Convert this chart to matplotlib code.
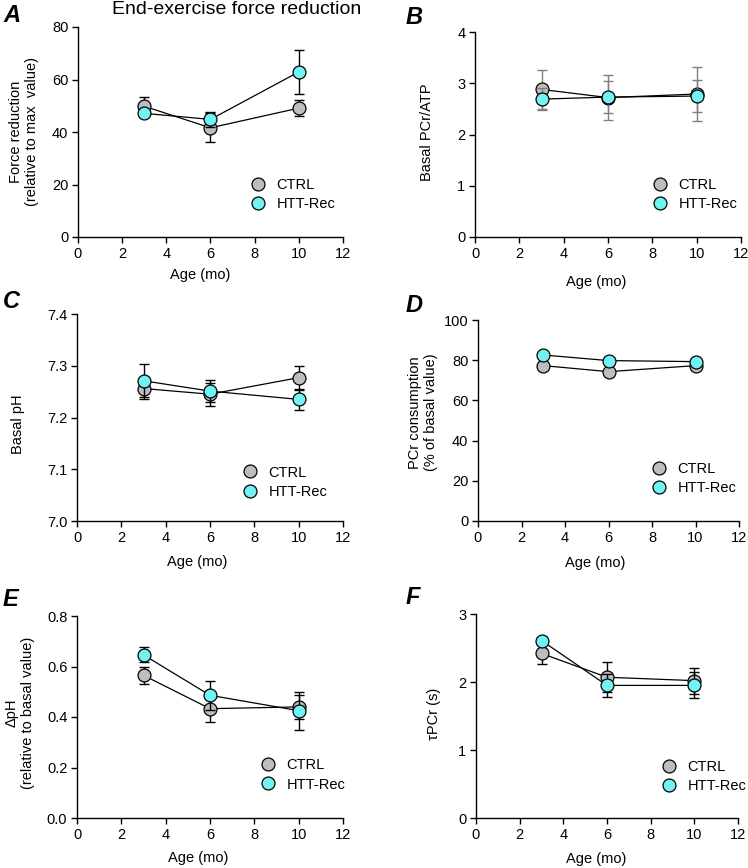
import matplotlib
matplotlib.use("Agg")
import matplotlib.pyplot as plt
from matplotlib.lines import Line2D
from matplotlib.ticker import FormatStrFormatter

plt.rcParams['font.family'] = ['Liberation Sans', 'DejaVu Sans']

# data
ages = [3, 6, 10]

force_ctrl = [49.8, 41.6, 49.1]
force_ctrl_err = [3.5, 5.5, 3.0]
force_htt = [47.1, 44.8, 62.9]
force_htt_err = [1.5, 3.0, 8.5]

pcr_atp_ctrl = [2.88, 2.72, 2.79]
pcr_atp_ctrl_err = [0.38, 0.44, 0.52]
pcr_atp_htt = [2.69, 2.73, 2.75]
pcr_atp_htt_err = [0.21, 0.32, 0.32]

ph_ctrl = [7.256, 7.245, 7.277]
ph_ctrl_err = [0.020, 0.022, 0.023]
ph_htt = [7.271, 7.251, 7.235]
ph_htt_err = [0.032, 0.022, 0.020]

pcr_cons_ctrl = [77.3, 74.3, 77.3]
pcr_cons_ctrl_err = [1.5, 1.5, 1.5]
pcr_cons_htt = [82.6, 79.8, 79.3]
pcr_cons_htt_err = [1.0, 1.0, 1.5]

dph_ctrl = [0.565, 0.433, 0.440]
dph_ctrl_err = [0.033, 0.054, 0.047]
dph_htt = [0.646, 0.486, 0.425]
dph_htt_err = [0.030, 0.058, 0.075]

tau_ctrl = [2.42, 2.07, 2.02]
tau_ctrl_err = [0.15, 0.22, 0.19]
tau_htt = [2.61, 1.95, 1.95]
tau_htt_err = [0.05, 0.17, 0.19]

ctrl_color = '#bdbdbd'
htt_color = '#72f2f2'

W, H = 748, 868
fig = plt.figure(figsize=(W / 100, H / 100), dpi=100)


def add_panel(px, letter, ylabel, yctrl, ectrl, yhtt, ehtt, ylim, yticks,
              yfmt, ylab_xy, xlab_xy, leg_xy, err_color='black', letter_xy=None):
    left, right, top, bottom = px
    ax = fig.add_axes([left / W, 1 - bottom / H, (right - left) / W, (bottom - top) / H])
    for y, e, c, z in [(yctrl, ectrl, ctrl_color, 3), (yhtt, ehtt, htt_color, 4)]:
        ax.errorbar(ages, y, yerr=e, fmt='none', ecolor=err_color, elinewidth=1,
                    capsize=3.5, capthick=1, zorder=z)
        ax.plot(ages, y, '-', color='black', lw=0.9, zorder=z)
        ax.plot(ages, y, 'o', ms=9.3, mfc=c, mec='black', mew=0.9, zorder=z + 0.5)
    ax.set_xlim(0, 12)
    ax.set_ylim(*ylim)
    ax.set_xticks(range(0, 13, 2))
    ax.set_yticks(yticks)
    ax.yaxis.set_major_formatter(FormatStrFormatter(yfmt))
    for s in ['top', 'right']:
        ax.spines[s].set_visible(False)
    for s in ['left', 'bottom']:
        ax.spines[s].set_linewidth(1)
    ax.tick_params(direction='out', length=4, width=1, labelsize=10.5, pad=3)
    ax.set_ylabel(ylabel, fontsize=10.5)
    ax.yaxis.label.set_va('center')
    ax.yaxis.set_label_coords(*ylab_xy)
    ax.set_xlabel('Age (mo)', fontsize=10.5)
    ax.xaxis.label.set_va('center')
    ax.xaxis.set_label_coords(*xlab_xy)
    handles = [Line2D([], [], ls='none', marker='o', ms=9.3, mfc=ctrl_color, mec='black', mew=0.9),
               Line2D([], [], ls='none', marker='o', ms=9.3, mfc=htt_color, mec='black', mew=0.9)]
    ax.legend(handles, ['CTRL', 'HTT-Rec'], loc='center left', bbox_to_anchor=leg_xy,
              frameon=False, fontsize=10.5, handlelength=1.0, handletextpad=0.75,
              labelspacing=0.35, borderpad=0, borderaxespad=0)
    fig.text(letter_xy[0] / W, 1 - letter_xy[1] / H, letter, fontsize=17,
             fontweight='bold', style='italic', ha='left', va='center')
    return ax


add_panel((78, 343, 27, 237), 'A', 'Force reduction\n(relative to max  value)',
          force_ctrl, force_ctrl_err, force_htt, force_htt_err,
          (0, 80), range(0, 81, 20), '%d', (-0.205, 0.5), (0.46, -0.18),
          (0.653, 0.202), letter_xy=(3, 15))
add_panel((475, 741, 32, 237), 'B', 'Basal PCr/ATP',
          pcr_atp_ctrl, pcr_atp_ctrl_err, pcr_atp_htt, pcr_atp_htt_err,
          (0, 4), range(0, 5), '%d', (-0.18, 0.51), (0.455, -0.22),
          (0.669, 0.207), err_color='#7f7f7f', letter_xy=(406, 18))
add_panel((77, 343, 314, 521), 'C', 'Basal pH',
          ph_ctrl, ph_ctrl_err, ph_htt, ph_htt_err,
          (7.0, 7.4), [7.0, 7.1, 7.2, 7.3, 7.4], '%.1f', (-0.22, 0.47), (0.45, -0.20),
          (0.624, 0.188), letter_xy=(3, 302))
add_panel((478, 739, 320, 521), 'D', 'PCr consumption\n(% of basal value)',
          pcr_cons_ctrl, pcr_cons_ctrl_err, pcr_cons_htt, pcr_cons_htt_err,
          (0, 100), range(0, 101, 20), '%d', (-0.21, 0.54), (0.45, -0.21),
          (0.667, 0.211), letter_xy=(406, 305))
add_panel((77, 343, 616, 818), 'E', '\u0394pH\n(relative to basal value)',
          dph_ctrl, dph_ctrl_err, dph_htt, dph_htt_err,
          (0, 0.8), [0.0, 0.2, 0.4, 0.6, 0.8], '%.1f', (-0.215, 0.52), (0.455, -0.20),
          (0.692, 0.213), letter_xy=(3, 600))
add_panel((476, 738, 614, 818), 'F', '\u03c4PCr (s)',
          tau_ctrl, tau_ctrl_err, tau_htt, tau_htt_err,
          (0, 3), range(0, 4), '%d', (-0.16, 0.51), (0.46, -0.20),
          (0.71, 0.203), letter_xy=(406, 598))

fig.text(237 / W, 1 - 10 / H, 'End-exercise force reduction', fontsize=14,
         ha='center', va='center')

fig.savefig('out.png', dpi=100)
